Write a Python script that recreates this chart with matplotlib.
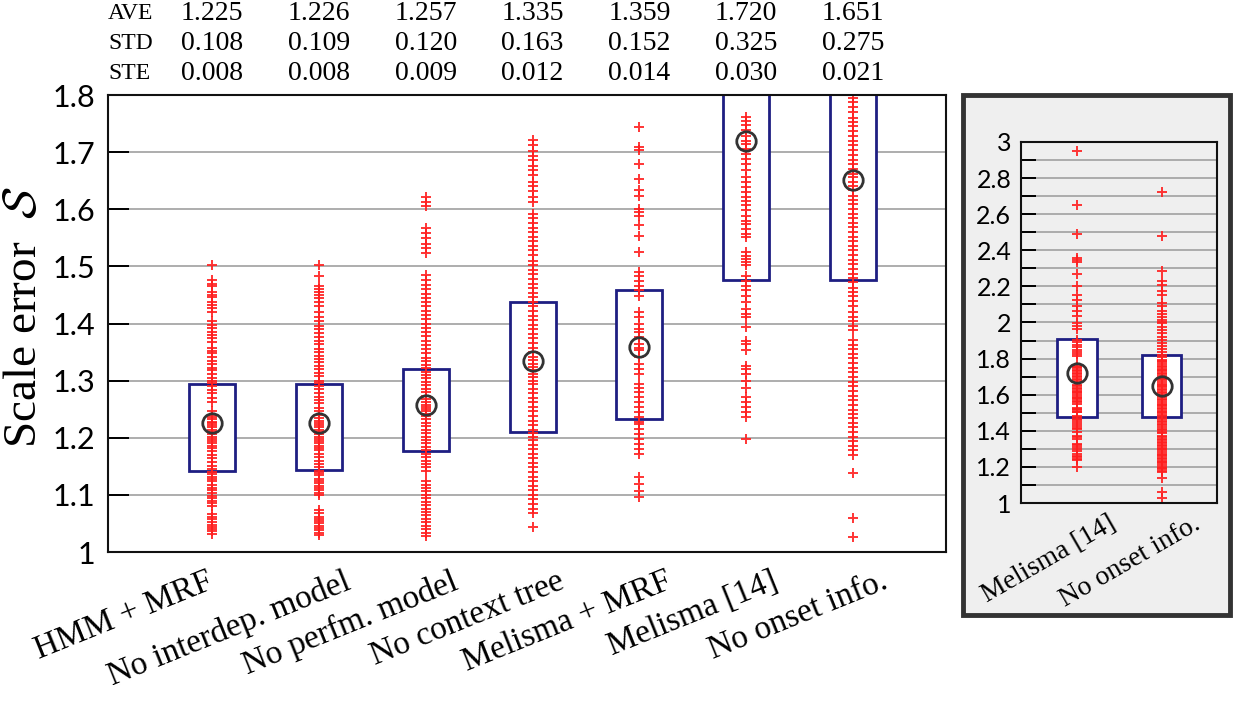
from __future__ import annotations

import matplotlib

matplotlib.use("Agg")

import matplotlib.pyplot as plt
import matplotlib.transforms as mtransforms
import numpy as np
from matplotlib.patches import Rectangle

# ---------------------------------------------------------------------------
# Data
# ---------------------------------------------------------------------------

methods = [
    "HMM + MRF",
    "No interdep. model",
    "No perfm. model",
    "No context tree",
    "Melisma + MRF",
    "Melisma [14]",
    "No onset info.",
]

ave = [1.225, 1.226, 1.257, 1.335, 1.359, 1.720, 1.651]
std = [0.108, 0.109, 0.120, 0.163, 0.152, 0.325, 0.275]
ste = [0.008, 0.008, 0.009, 0.012, 0.014, 0.030, 0.021]

box_low = [1.142, 1.143, 1.177, 1.210, 1.233, 1.477, 1.477]
box_high = [1.295, 1.295, 1.321, 1.437, 1.458, 1.907, 1.820]

hmm_mrf = [
    1.503, 1.476, 1.470, 1.465, 1.455, 1.450, 1.446, 1.438, 1.432, 1.428,
    1.420, 1.405, 1.398, 1.392, 1.386, 1.380, 1.375, 1.368, 1.358, 1.352,
    1.348, 1.342, 1.335, 1.330, 1.322, 1.318, 1.312, 1.305, 1.300, 1.296,
    1.290, 1.284, 1.278, 1.270, 1.262, 1.246, 1.240, 1.236, 1.232, 1.228,
    1.225, 1.222, 1.218, 1.214, 1.210, 1.206, 1.202, 1.198, 1.194, 1.190,
    1.186, 1.182, 1.176, 1.170, 1.164, 1.158, 1.150, 1.145, 1.140, 1.136,
    1.132, 1.128, 1.124, 1.118, 1.112, 1.108, 1.104, 1.098, 1.094, 1.090,
    1.085, 1.080, 1.066, 1.062, 1.058, 1.052, 1.048, 1.044, 1.040, 1.036,
    1.032,
]

no_interdep = [
    1.503, 1.484, 1.466, 1.460, 1.455, 1.450, 1.445, 1.438, 1.430, 1.420,
    1.412, 1.404, 1.396, 1.390, 1.384, 1.376, 1.370, 1.364, 1.356, 1.350,
    1.344, 1.338, 1.332, 1.326, 1.320, 1.314, 1.308, 1.300, 1.296, 1.290,
    1.285, 1.278, 1.272, 1.266, 1.260, 1.252, 1.246, 1.240, 1.234, 1.230,
    1.226, 1.222, 1.218, 1.214, 1.210, 1.206, 1.202, 1.198, 1.194, 1.190,
    1.186, 1.182, 1.178, 1.172, 1.166, 1.160, 1.154, 1.148, 1.142, 1.138,
    1.134, 1.128, 1.124, 1.120, 1.116, 1.112, 1.108, 1.104, 1.100, 1.074,
    1.068, 1.062, 1.058, 1.054, 1.050, 1.046, 1.042, 1.038, 1.034, 1.030,
]

no_perfm = [
    1.622, 1.613, 1.605, 1.567, 1.558, 1.549, 1.540, 1.532, 1.523, 1.485,
    1.476, 1.468, 1.460, 1.452, 1.445, 1.438, 1.430, 1.422, 1.415, 1.408,
    1.400, 1.392, 1.385, 1.378, 1.370, 1.362, 1.355, 1.348, 1.340, 1.334,
    1.328, 1.322, 1.316, 1.310, 1.304, 1.298, 1.292, 1.286, 1.280, 1.274,
    1.268, 1.262, 1.258, 1.254, 1.250, 1.246, 1.242, 1.238, 1.232, 1.226,
    1.220, 1.214, 1.208, 1.202, 1.196, 1.190, 1.184, 1.178, 1.172, 1.166,
    1.160, 1.154, 1.148, 1.142, 1.124, 1.118, 1.112, 1.106, 1.100, 1.094,
    1.088, 1.082, 1.076, 1.070, 1.064, 1.058, 1.052, 1.046, 1.040, 1.034,
    1.028,
]

no_context = [
    1.722, 1.712, 1.702, 1.694, 1.686, 1.676, 1.668, 1.660, 1.648, 1.640,
    1.632, 1.622, 1.612, 1.592, 1.584, 1.576, 1.568, 1.560, 1.552, 1.544,
    1.536, 1.528, 1.520, 1.510, 1.502, 1.494, 1.486, 1.478, 1.470, 1.462,
    1.454, 1.446, 1.438, 1.430, 1.422, 1.414, 1.406, 1.398, 1.390, 1.382,
    1.374, 1.366, 1.358, 1.350, 1.342, 1.336, 1.330, 1.324, 1.318, 1.312,
    1.306, 1.300, 1.294, 1.286, 1.278, 1.270, 1.262, 1.254, 1.246, 1.238,
    1.230, 1.222, 1.214, 1.208, 1.202, 1.196, 1.188, 1.180, 1.172, 1.164,
    1.156, 1.148, 1.140, 1.132, 1.124, 1.116, 1.108, 1.100, 1.092, 1.084,
    1.076, 1.068, 1.044,
]

melisma_mrf = [
    1.744, 1.709, 1.703, 1.680, 1.653, 1.633, 1.624, 1.601, 1.595, 1.589,
    1.572, 1.554, 1.525, 1.490, 1.484, 1.475, 1.466, 1.458, 1.449, 1.420,
    1.411, 1.399, 1.391, 1.385, 1.376, 1.364, 1.358, 1.353, 1.341, 1.329,
    1.321, 1.312, 1.294, 1.288, 1.280, 1.271, 1.262, 1.253, 1.245, 1.236,
    1.227, 1.224, 1.215, 1.207, 1.198, 1.189, 1.180, 1.172, 1.131, 1.119,
    1.107, 1.096,
]

melisma = [
    2.952, 2.653, 2.490, 2.357, 2.344, 2.333, 2.269, 2.200, 2.150, 2.126,
    2.089, 2.061, 2.034, 1.997, 1.978, 1.964, 1.905, 1.890, 1.875, 1.862,
    1.848, 1.838, 1.825, 1.812, 1.761, 1.755, 1.747, 1.738, 1.729, 1.720,
    1.715, 1.706, 1.697, 1.688, 1.680, 1.668, 1.656, 1.647, 1.639, 1.630,
    1.621, 1.615, 1.607, 1.598, 1.589, 1.580, 1.574, 1.566, 1.557, 1.551,
    1.525, 1.519, 1.513, 1.507, 1.502, 1.484, 1.475, 1.466, 1.458, 1.449,
    1.437, 1.425, 1.417, 1.411, 1.394, 1.370, 1.364, 1.353, 1.326, 1.321,
    1.312, 1.300, 1.288, 1.271, 1.262, 1.253, 1.245, 1.236, 1.198,
]

no_onset = [
    2.721, 2.477, 2.283, 2.228, 2.209, 2.172, 2.154, 2.108, 2.089, 2.061,
    2.045, 2.030, 2.014, 2.005, 1.997, 1.975, 1.958, 1.940, 1.922, 1.905,
    1.888, 1.870, 1.852, 1.838, 1.822, 1.808, 1.794, 1.787, 1.779, 1.771,
    1.760, 1.753, 1.745, 1.737, 1.729, 1.720, 1.713, 1.703, 1.695, 1.686,
    1.679, 1.670, 1.662, 1.656, 1.648, 1.640, 1.633, 1.624, 1.616, 1.609,
    1.600, 1.591, 1.585, 1.576, 1.569, 1.560, 1.551, 1.545, 1.536, 1.529,
    1.520, 1.511, 1.505, 1.496, 1.487, 1.480, 1.472, 1.463, 1.456, 1.448,
    1.439, 1.430, 1.421, 1.412, 1.404, 1.396, 1.388, 1.372, 1.363, 1.356,
    1.347, 1.340, 1.331, 1.323, 1.316, 1.306, 1.298, 1.291, 1.282, 1.274,
    1.266, 1.258, 1.249, 1.242, 1.234, 1.226, 1.219, 1.210, 1.202, 1.194,
    1.186, 1.179, 1.170, 1.138, 1.059, 1.026,
]

scale_errors = [
    hmm_mrf,
    no_interdep,
    no_perfm,
    no_context,
    melisma_mrf,
    melisma,
    no_onset,
]

inset_methods = ["Melisma [14]", "No onset info."]

main_ticks = [1.0, 1.1, 1.2, 1.3, 1.4, 1.5, 1.6, 1.7, 1.8]
main_tick_labels = ["1", "1.1", "1.2", "1.3", "1.4", "1.5", "1.6", "1.7", "1.8"]
inset_ticks = [1.0, 1.2, 1.4, 1.6, 1.8, 2.0, 2.2, 2.4, 2.6, 2.8, 3.0]
inset_tick_labels = [
    "1", "1.2", "1.4", "1.6", "1.8", "2", "2.2", "2.4", "2.6", "2.8", "3",
]
inset_minor_ticks = np.round(np.arange(1.1, 3.0, 0.1), 1)

# ---------------------------------------------------------------------------
# Styles
# ---------------------------------------------------------------------------

BOX_COLOR = "#1e1e82"
POINT_COLOR = "#ff1f1f"
MEAN_COLOR = "#333333"
GRID_COLOR = "#a0a0a0"
PANEL_COLOR = "#efefef"

SANS = ["Lato", "DejaVu Sans"]
SERIF = ["Liberation Serif", "DejaVu Serif"]

plt.rcParams["mathtext.fontset"] = "cm"


def draw_groups(ax, positions, groups, low, high, means, width):
    """Boxes, individual points and mean circles."""

    ax.bar(
        positions,
        np.array(high) - np.array(low),
        bottom=low,
        width=width,
        facecolor="white",
        edgecolor=BOX_COLOR,
        linewidth=2.0,
        zorder=2,
    )

    for pos, values in zip(positions, groups):
        ax.plot(
            np.full(len(values), pos),
            values,
            "+",
            color=POINT_COLOR,
            markersize=7.5,
            markeredgewidth=1.4,
            alpha=0.9,
            zorder=3,
        )

    ax.plot(
        positions,
        means,
        "o",
        markerfacecolor="none",
        markeredgecolor=MEAN_COLOR,
        markersize=14,
        markeredgewidth=2.0,
        linestyle="none",
        zorder=4,
    )


def style_axis(ax, ticks, labels, tick_size):
    ax.set_yticks(ticks)
    ax.set_yticklabels(labels, family=SANS, fontsize=tick_size)
    ax.yaxis.grid(True, color=GRID_COLOR, linewidth=1.2, which="both")
    ax.set_axisbelow(True)
    ax.tick_params(
        axis="y",
        which="both",
        direction="in",
        length=15,
        width=1.4,
        pad=9,
        right=False,
    )
    ax.tick_params(axis="x", length=0, labelbottom=False)
    for spine in ax.spines.values():
        spine.set_linewidth(1.5)
        spine.set_color("#111111")
        spine.set_zorder(5)


def rotated_labels(fig, ax, positions, labels, size, dx, dy, angle,
                   nudges=None):
    if nudges is None:
        nudges = [0] * len(labels)
    for pos, text, nudge in zip(positions, labels, nudges):
        place = mtransforms.offset_copy(
            ax.get_xaxis_transform(),
            fig=fig,
            x=dx + nudge,
            y=dy,
            units="points",
        )
        ax.text(
            pos,
            0.0,
            text,
            transform=place,
            rotation=angle,
            rotation_mode="anchor",
            ha="right",
            va="top",
            family=SERIF,
            fontsize=size,
            clip_on=False,
        )


def main() -> None:
    fig = plt.figure(figsize=(12.34, 7.07), dpi=100)

    # Main panel
    ax = fig.add_axes([0.0875, 0.2192, 0.6791, 0.6464])
    positions = np.arange(1, len(methods) + 1)
    ax.set_xlim(0.026, 7.87)
    ax.set_ylim(1.0, 1.8)
    style_axis(ax, main_ticks, main_tick_labels, 22)
    draw_groups(ax, positions, scale_errors, box_low, box_high, ave, 0.43)
    rotated_labels(
        fig, ax, positions, methods, 24, 18, -10, 22,
        nudges=[-22, 0, 0, 0, 0, 0, 2],
    )

    fig.text(
        0.02,
        0.552,
        "Scale error  $\\mathcal{S}$",
        rotation=90,
        ha="center",
        va="center",
        family=SERIF,
        fontsize=34,
    )

    # Statistics above the panel
    stats_transform = mtransforms.blended_transform_factory(
        ax.transData, fig.transFigure
    )
    rows = [("AVE", ave, 0.981), ("STD", std, 0.939), ("STE", ste, 0.896)]
    for name, values, y in rows:
        fig.text(
            0.0875, y, name,
            ha="left", va="center", family=SERIF, fontsize=17,
        )
        for pos, value in zip(positions, values):
            ax.text(
                pos, y, f"{value:.3f}",
                transform=stats_transform,
                ha="center", va="center", family=SERIF, fontsize=20,
            )

    # Inset with the full range
    fig.patches.append(
        Rectangle(
            (0.7804, 0.1301),
            0.2164,
            0.7355,
            transform=fig.transFigure,
            facecolor=PANEL_COLOR,
            edgecolor="#333333",
            linewidth=3.5,
            zorder=-1,
        )
    )
    inset = fig.add_axes([0.8274, 0.2885, 0.1588, 0.5107])
    inset.set_facecolor(PANEL_COLOR)
    inset_positions = np.array([1, 2])
    inset.set_xlim(0.34, 2.65)
    inset.set_ylim(1.0, 3.0)
    style_axis(inset, inset_ticks, inset_tick_labels, 18)
    inset.set_yticks(inset_minor_ticks, minor=True)
    inset.tick_params(axis="y", which="both", length=11, pad=7)
    draw_groups(
        inset,
        inset_positions,
        scale_errors[5:],
        box_low[5:],
        box_high[5:],
        ave[5:],
        0.46,
    )
    rotated_labels(
        fig, inset, inset_positions, inset_methods, 20, 22, -6, 30,
    )

    fig.savefig("out.png", dpi=100)


if __name__ == "__main__":
    main()
